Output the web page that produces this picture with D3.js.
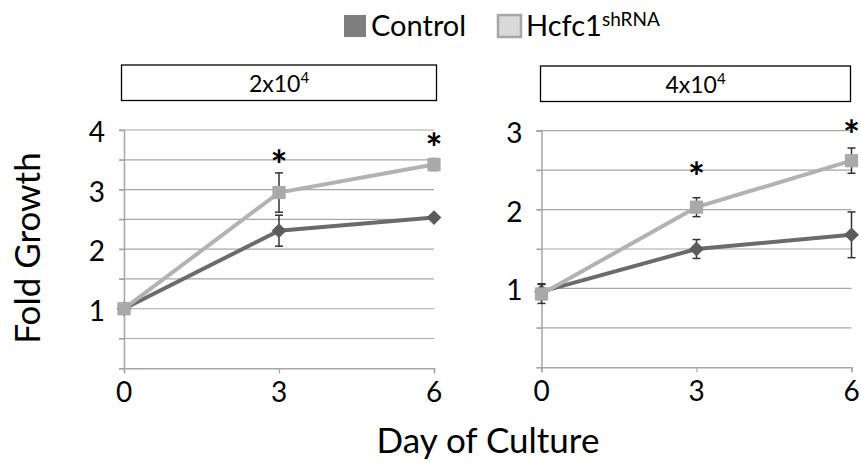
<!DOCTYPE html>
<html>
<head>
<meta charset="utf-8">
<script src="https://cdn.jsdelivr.net/npm/d3@7"></script>
<style>
  html, body { margin: 0; padding: 0; background: #fff; }
  svg { display: block; }
  text { font-family: Lato, "Open Sans", sans-serif; fill: #000; }
</style>
</head>
<body>
<svg id="chart" width="861" height="463"></svg>
<script>
// ---- data ----
const days = [0, 3, 6];
const seriesNames = ["Control", "Hcfc1"];
const panelTitles = ["2x10", "4x10"];
const panelTitleExp = ["4", "4"];

const leftControl = [1.00, 2.31, 2.53];
const leftControlErr = [0, 0.26, 0];
const leftHcfc1 = [1.00, 2.95, 3.42];
const leftHcfc1Err = [0, 0.33, 0.10];
const leftStars = [null, 3.50, 3.78];
const leftYTicks = [1, 2, 3, 4];

const rightControl = [0.96, 1.50, 1.68];
const rightControlErr = [0.10, 0.12, 0.29];
const rightHcfc1 = [0.93, 2.03, 2.62];
const rightHcfc1Err = [0.12, 0.12, 0.16];
const rightStars = [null, 2.47, 3.01];
const rightYTicks = [1, 2, 3];

const panels = [
  { title: panelTitles[0], exp: panelTitleExp[0], yMax: 4, yTicks: leftYTicks,
    control: leftControl, controlErr: leftControlErr, hcfc: leftHcfc1, hcfcErr: leftHcfc1Err, stars: leftStars,
    x0: 124, x1: 434, y0: 368.3, y1: 130, box: [121.5, 65, 315, 35.5] },
  { title: panelTitles[1], exp: panelTitleExp[1], yMax: 3, yTicks: rightYTicks,
    control: rightControl, controlErr: rightControlErr, hcfc: rightHcfc1, hcfcErr: rightHcfc1Err, stars: rightStars,
    x0: 541.5, x1: 851.5, y0: 367.3, y1: 130.7, box: [540.5, 66, 310, 35.5] }
];

const colors = { Control: "#6b6b6b", ControlMarker: "#5c5c5c", Hcfc1: "#b2b2b2", Hcfc1Marker: "#a9a9a9" };
const gridColor = "#a6a6a6";

const svg = d3.select("#chart");

// ---- legend ----
const lg = svg.append("g");
lg.append("rect").attr("x", 344).attr("y", 15).attr("width", 22).attr("height", 22).attr("fill", "#7f7f7f");
lg.append("text").attr("x", 371).attr("y", 36).attr("font-size", 29).text(seriesNames[0]);
lg.append("rect").attr("x", 498).attr("y", 15).attr("width", 23).attr("height", 22)
  .attr("fill", "#d9d9d9").attr("stroke", "#a6a6a6").attr("stroke-width", 2.5);
const lt = lg.append("text").attr("x", 526).attr("y", 36).attr("font-size", 29);
lt.append("tspan").text("Hcfc1");
lt.append("tspan").attr("font-size", 19).attr("dy", -10).text("shRNA");

// ---- panels ----
panels.forEach(p => {
  const g = svg.append("g");
  const x = d3.scaleLinear().domain([0, 6]).range([p.x0, p.x1]);
  const y = d3.scaleLinear().domain([0, p.yMax]).range([p.y0, p.y1]);

  // header box
  g.append("rect").attr("x", p.box[0]).attr("y", p.box[1]).attr("width", p.box[2]).attr("height", p.box[3])
    .attr("fill", "#fff").attr("stroke", "#000").attr("stroke-width", 1.3);
  const ht = g.append("text").attr("x", p.box[0] + p.box[2] / 2).attr("y", p.box[1] + 27)
    .attr("text-anchor", "middle").attr("font-size", 23);
  ht.append("tspan").text(p.title);
  ht.append("tspan").attr("font-size", 15).attr("dy", -9).text(p.exp);

  // gridlines (every 0.5)
  const gridVals = d3.range(0, p.yMax + 0.001, 0.5);
  g.append("g").selectAll("line").data(gridVals.filter(v => v > 0)).join("line")
    .attr("x1", p.x0 - 5).attr("x2", p.x1).attr("y1", d => y(d)).attr("y2", d => y(d))
    .attr("stroke", gridColor).attr("stroke-width", 1.2);

  // y axis
  const ya = d3.axisLeft(y).tickValues(gridVals).tickSize(5).tickFormat("");
  const yg = g.append("g").attr("transform", `translate(${p.x0},0)`).call(ya);
  yg.select(".domain").attr("stroke", gridColor).attr("stroke-width", 1.5);
  yg.selectAll(".tick line").attr("stroke", gridColor).attr("stroke-width", 1.2);
  g.append("g").selectAll("text").data(p.yTicks).join("text")
    .attr("x", p.x0 - 19).attr("y", d => y(d) + 12).attr("text-anchor", "end")
    .attr("font-size", 28).text(d => d);

  // x axis
  const xa = d3.axisBottom(x).tickValues(days).tickSize(5).tickFormat("");
  const xg = g.append("g").attr("transform", `translate(0,${p.y0})`).call(xa);
  xg.select(".domain").attr("stroke", gridColor).attr("stroke-width", 1.5);
  xg.selectAll(".tick line").attr("stroke", gridColor).attr("stroke-width", 1.2);
  g.append("g").selectAll("text").data(days).join("text")
    .attr("x", d => x(d)).attr("y", p.y0 + 34).attr("text-anchor", "middle")
    .attr("font-size", 28).text(d => d);

  const line = d3.line().x((d, i) => x(days[i])).y(d => y(d));

  const drawSeries = (vals, errs, lineColor, markColor, isSquare) => {
    g.append("path").datum(vals).attr("d", line).attr("fill", "none")
      .attr("stroke", lineColor).attr("stroke-width", 4);
    // error bars
    const eb = g.append("g");
    vals.forEach((v, i) => {
      if (!errs[i]) return;
      const cx = x(days[i]);
      eb.append("line").attr("x1", cx).attr("x2", cx).attr("y1", y(v + errs[i])).attr("y2", y(v - errs[i]))
        .attr("stroke", "#333").attr("stroke-width", 1.5);
      [v + errs[i], v - errs[i]].forEach(e => {
        eb.append("line").attr("x1", cx - 4).attr("x2", cx + 4).attr("y1", y(e)).attr("y2", y(e))
          .attr("stroke", "#333").attr("stroke-width", 1.5);
      });
    });
    // markers
    g.append("g").selectAll("path").data(vals).join("path")
      .attr("transform", (d, i) => isSquare
        ? `translate(${x(days[i])},${y(d)})`
        : `translate(${x(days[i])},${y(d)}) rotate(45)`)
      .attr("d", d3.symbol().type(d3.symbolSquare).size(isSquare ? 175 : 110))
      .attr("fill", markColor);
  };

  drawSeries(p.control, p.controlErr, colors.Control, colors.ControlMarker, false);
  drawSeries(p.hcfc, p.hcfcErr, colors.Hcfc1, colors.Hcfc1Marker, true);

  // significance stars
  g.append("g").selectAll("text").data(p.stars.map((s, i) => ({ s, i })).filter(d => d.s != null)).join("text")
    .attr("x", d => x(days[d.i])).attr("y", d => y(d.s) + 20).attr("text-anchor", "middle")
    .attr("font-size", 40).attr("font-weight", "bold").text("*");
});

// ---- axis titles ----
svg.append("text").attr("transform", "translate(40,248) rotate(-90)").attr("text-anchor", "middle")
  .attr("font-size", 35).text("Fold Growth");
svg.append("text").attr("x", 488).attr("y", 453).attr("text-anchor", "middle")
  .attr("font-size", 35).text("Day of Culture");
</script>
</body>
</html>
